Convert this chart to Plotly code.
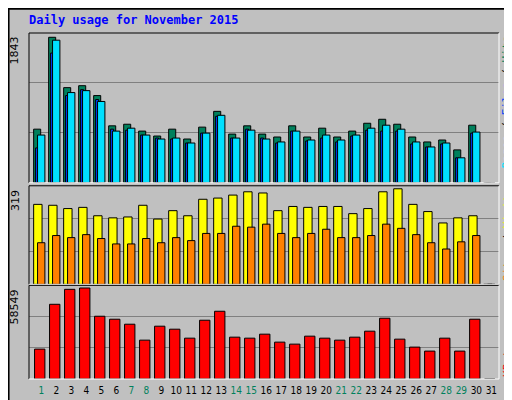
import plotly.graph_objects as go

days = list(range(1, 32))
hits = [663, 1798, 1176, 1200, 1078, 704, 724, 639, 578, 663, 541, 688, 883, 602, 704,
        602, 566, 704, 566, 675, 566, 639, 736, 785, 724, 566, 505, 529, 407, 712, 0]
files = [590, 1762, 1115, 1139, 1005, 639, 675, 590, 541, 553, 492, 614, 834, 553, 651,
         541, 505, 639, 529, 590, 529, 590, 675, 712, 663, 505, 443, 492, 309, 627, 0]
pages = [431, 1603, 1078, 1151, 1029, 663, 651, 590, 553, 541, 492, 614, 822, 553, 663,
         553, 492, 639, 517, 553, 505, 578, 651, 639, 639, 480, 443, 480, 309, 614, 0]
visits = [267, 264, 253, 257, 229, 222, 225, 264, 218, 246, 229, 284, 288, 298, 309,
          305, 246, 260, 257, 260, 260, 236, 253, 309, 319, 267, 243, 205, 222, 229, 0]
sites = [139, 163, 156, 166, 153, 135, 135, 153, 139, 156, 146, 170, 170, 194, 191,
         201, 170, 156, 170, 184, 156, 156, 163, 201, 187, 166, 139, 118, 142, 163, 0]
kbytes = [19231, 48079, 57694, 58549, 40386, 38463, 35258, 25001, 33975, 32053, 26283,
          37822, 43591, 26924, 26283, 28847, 23719, 22437, 27565, 26283, 25001, 26924,
          30770, 39104, 25642, 20513, 17949, 26283, 17949, 38463, 0]
weekend = [1, 7, 8, 14, 15, 21, 22, 28, 29]

max_hits, max_visits, max_kb = 1843, 319, 58549

fig = go.Figure()

def bars(y, color, offset, width, xa, ya):
    fig.add_trace(go.Bar(x=days, y=y, offset=offset, width=width, marker_color=color,
                         marker_line=dict(color="black", width=1), xaxis=xa, yaxis=ya,
                         showlegend=False, hoverinfo="x+y"))

bars(hits, "#00805C", -0.51, 0.47, "x", "y")
bars(pages, "#0040FF", -0.38, 0.2, "x", "y")
bars(files, "#00E0FF", -0.25, 0.49, "x", "y")
bars(visits, "#FFFF00", -0.51, 0.56, "x2", "y2")
bars(sites, "#FF8000", -0.25, 0.49, "x2", "y2")
bars(kbytes, "#FF0000", -0.45, 0.69, "x3", "y3")

xr = [0.18, 31.51]
ticktext = [f"<span style='color:#00805C'>{d}</span>" if d in weekend else str(d) for d in days]
common_x = dict(range=xr, showgrid=False, zeroline=False, showline=False)
fig.update_layout(
    barmode="overlay",
    width=512, height=400,
    margin=dict(l=21, r=21, t=25, b=24),
    paper_bgcolor="#C0C0C0", plot_bgcolor="#C0C0C0",
    font=dict(family="DejaVu Sans", size=11, color="black"),
    xaxis=dict(common_x, anchor="y", showticklabels=False),
    xaxis2=dict(common_x, anchor="y2", matches="x", showticklabels=False),
    xaxis3=dict(common_x, anchor="y3", matches="x", tickvals=days, ticktext=ticktext,
                ticks="", tickangle=0, ticklabelstandoff=4,
                tickfont=dict(family="DejaVu Sans Condensed", size=10)),
)
def yax(top, domain, xa):
    return dict(range=[0, top], domain=domain, anchor=xa, showticklabels=False,
                tickvals=[top / 3, 2 * top / 3], gridcolor="#808080", gridwidth=1,
                zeroline=False, showline=False)
fig.update_layout(
    yaxis=yax(1851, [0.567, 1], "x"),
    yaxis2=yax(329, [0.2735, 0.5584], "x2"),
    yaxis3=yax(60270, [0, 0.2707], "x3"),
)

# panel frames
for y0, y1 in [(0.567, 1), (0.2735, 0.5584), (0, 0.2707)]:
    fig.add_shape(type="line", xref="paper", yref="paper", x0=0, x1=1, y0=y1, y1=y1,
                  line=dict(color="black", width=1))
    fig.add_shape(type="line", xref="paper", yref="paper", x0=0, x1=0, y0=y0, y1=y1,
                  line=dict(color="black", width=1))
    fig.add_shape(type="line", xref="paper", yref="paper", x0=0, x1=1, y0=y0, y1=y0,
                  line=dict(color="white", width=1))
    fig.add_shape(type="line", xref="paper", yref="paper", x0=1, x1=1, y0=y0, y1=y1,
                  line=dict(color="white", width=1))
fig.add_shape(type="rect", xref="paper", yref="paper", x0=-0.0435, x1=1.0435,
              y0=-0.067, y1=1.07, line=dict(color="black", width=2))

fig.add_annotation(text="<b>Daily usage for November 2015</b>", xref="paper", yref="paper",
                   x=-0.004, y=1.038, xanchor="left", yanchor="middle", showarrow=False,
                   font=dict(family="DejaVu Sans Mono", size=12, color="#0000FF"))

for label, ytop in [(str(max_hits), 1.0), (str(max_visits), 0.5584), (str(max_kb), 0.2707)]:
    fig.add_annotation(text=label, textangle=-90, xref="paper", yref="paper", x=-0.012,
                       y=ytop - 0.005, xanchor="right", yanchor="top", showarrow=False,
                       font=dict(size=11, color="black"))

mono = dict(family="DejaVu Sans Mono", size=11)
fig.add_annotation(text="<span style='color:#00E0FF'>Pages</span> / <span style='color:#0040FF'>Files</span> / <span style='color:#00805C'>Hits</span>",
                   textangle=-90, xref="paper", yref="paper", x=1.017, y=1.0, xanchor="center",
                   yanchor="top", showarrow=False, font=mono)
fig.add_annotation(text="<span style='color:#FF8000'>Sites</span> / <span style='color:#FFFF00'>Visits</span>",
                   textangle=-90, xref="paper", yref="paper", x=1.017, y=0.5584, xanchor="center",
                   yanchor="top", showarrow=False, font=mono)
fig.add_annotation(text="<span style='color:#FF0000'>KBytes</span>",
                   textangle=-90, xref="paper", yref="paper", x=1.017, y=0.0, xanchor="center",
                   yanchor="bottom", showarrow=False, font=mono)

fig.write_html("out.html")
